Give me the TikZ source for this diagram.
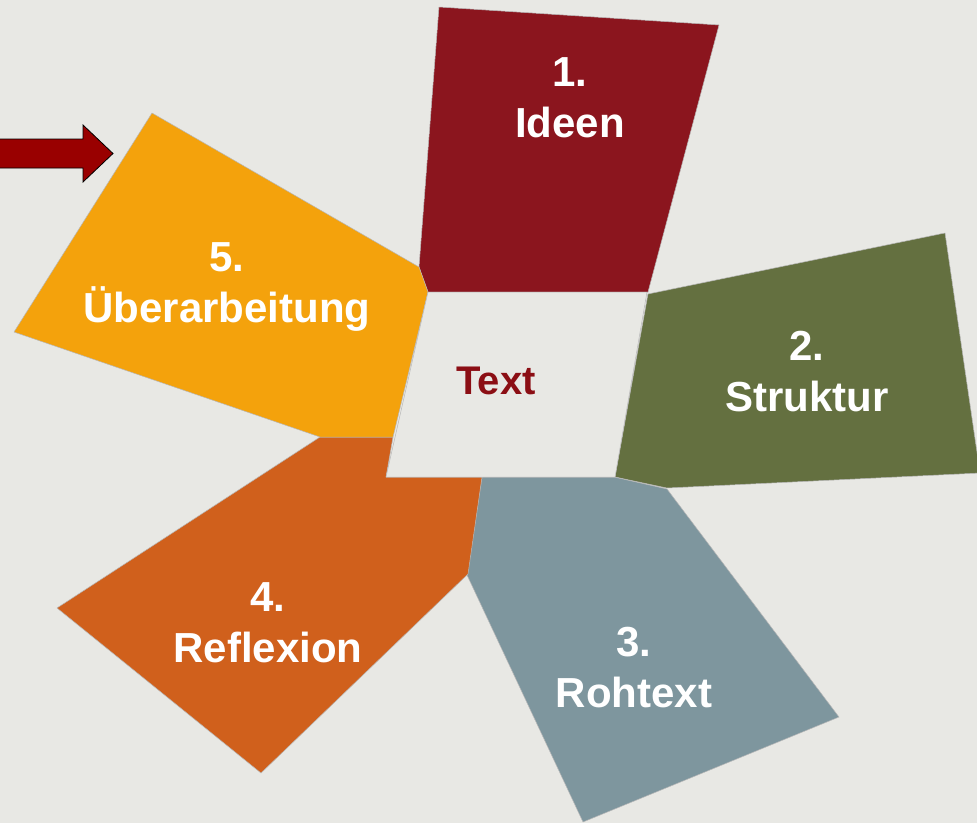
\documentclass[tikz,border=0pt]{standalone}
\usepackage{fontspec}
\setmainfont{Liberation Sans}
\definecolor{bgc}{HTML}{E8E8E4}
\definecolor{ideen}{HTML}{8B151E}
\definecolor{struktur}{HTML}{647040}
\definecolor{rohtext}{HTML}{7E969E}
\definecolor{reflexion}{HTML}{D0601C}
\definecolor{ueber}{HTML}{F4A20C}
\definecolor{arrowred}{HTML}{990000}
\definecolor{centertext}{HTML}{8B0E14}
\begin{document}
\begin{tikzpicture}[x=1pt,y=-1pt,
  petal/.style={draw=black!28,line width=0.5pt,line join=round},
  lbl/.style={text=white,font=\fontsize{42}{51}\selectfont\bfseries,align=center,inner sep=0pt,anchor=base}]
\useasboundingbox (0,0) rectangle (977,823);
\fill[bgc] (0,0) rectangle (977,823);
\begin{scope}
\clip (0,0) rectangle (977,823);
% petals around the centre
\filldraw[petal,fill=ideen] (439,7) -- (719,25) -- (648,292) -- (428,292) -- (419,267) -- cycle;
\filldraw[petal,fill=struktur] (648,294) -- (945,233) -- (980,473) -- (667,488) -- (615,477) -- cycle;
\filldraw[petal,fill=rohtext] (482,477) -- (614,477) -- (667,489) -- (839,717) -- (583,822) -- (467,575) -- cycle;
\filldraw[petal,fill=reflexion] (320,437) -- (393,437) -- (386,477) -- (482,477) -- (468,574) -- (261,773) -- (57,608) -- cycle;
\filldraw[petal,fill=ueber] (152,113) -- (419,267) -- (428,292) -- (393,437) -- (320,437) -- (14,332) -- cycle;
% centre field
\filldraw[petal,fill=bgc] (428,292) -- (647,292) -- (615,477) -- (386,477) -- cycle;
\end{scope}
% entry arrow
\filldraw[fill=arrowred,draw=black,line width=0.8pt,line join=miter]
  (-2,139) -- (83,139) -- (83,125) -- (113,153.5) -- (83,182) -- (83,168) -- (-2,168) -- cycle;
% labels (anchored at the baseline of the lower line)
\node[lbl] (l1) at (570,137) {1.\\Ideen};
\node[lbl] (l2) at (807,411) {2.\\Struktur};
\node[lbl] (l3) at (634,707) {3.\\Rohtext};
\node[lbl] (l4) at (268,662) {4.\\Reflexion};
\node[lbl] (l5) at (227,322) {5.\\Überarbeitung};
\node[lbl,text=centertext,font=\fontsize{40}{48}\selectfont\bfseries] (c) at (496,394) {Text};
\end{tikzpicture}
\end{document}
